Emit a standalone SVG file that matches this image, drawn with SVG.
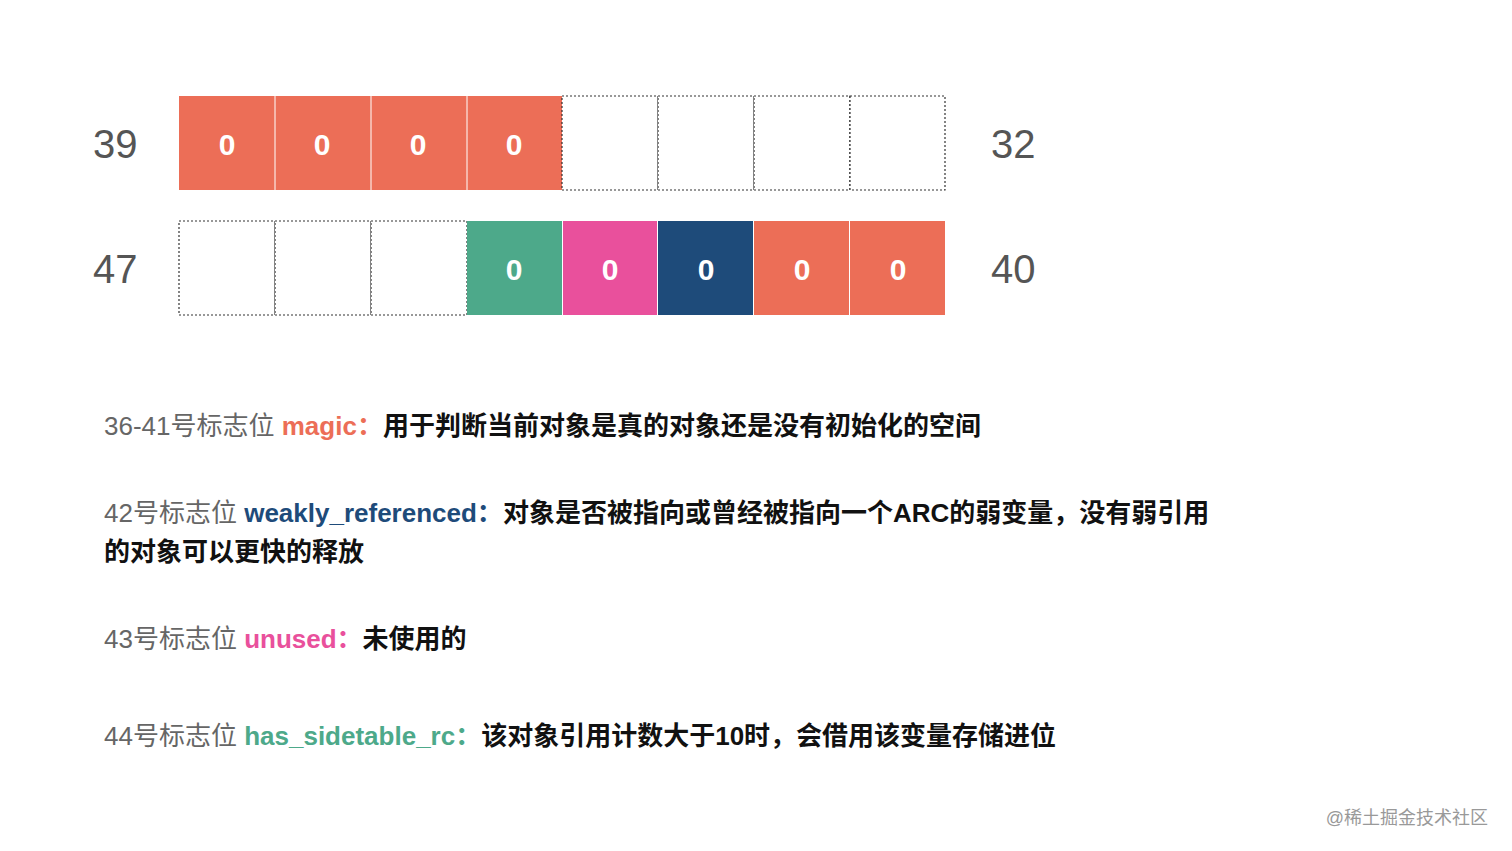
<svg xmlns="http://www.w3.org/2000/svg" width="1512" height="851" viewBox="0 0 1512 851">
<style>
.num{font-family:"Liberation Sans","Noto Sans CJK SC",sans-serif;font-size:40px;fill:#555}
.v{font-family:"Liberation Sans",sans-serif;font-size:30px;font-weight:bold;fill:#fff;text-anchor:middle}
.e{fill:#fff;stroke:#333;stroke-width:1.2;stroke-dasharray:2 2}
.t{font-family:"Liberation Sans","Noto Sans CJK SC",sans-serif;font-size:26px}
.g{fill:#666}.b{fill:#111;font-weight:bold}
.o{fill:#EC6E57}.gr{fill:#4DA98A}.p{fill:#E9509C}.n{fill:#1E4B7A}
</style>
<rect width="1512" height="851" fill="#fff"/>
<g id="row1">
<rect x="179" y="96" width="96" height="94" class="o"/><rect x="275" y="96" width="96" height="94" class="o"/>
<rect x="371" y="96" width="96" height="94" class="o"/><rect x="467" y="96" width="95" height="94" class="o"/>
<line x1="275" y1="96" x2="275" y2="190" stroke="#fff"/><line x1="371" y1="96" x2="371" y2="190" stroke="#fff"/><line x1="467" y1="96" x2="467" y2="190" stroke="#fff"/>
<rect x="562" y="96" width="96" height="94" class="e"/><rect x="658" y="96" width="96" height="94" class="e"/>
<rect x="754" y="96" width="96" height="94" class="e"/><rect x="850" y="96" width="95" height="94" class="e"/>
<text x="227" y="155" class="v">0</text><text x="322" y="155" class="v">0</text><text x="418" y="155" class="v">0</text><text x="514" y="155" class="v">0</text>
<text x="93" y="158" class="num">39</text><text x="991" y="158" class="num">32</text>
</g>
<g id="row2">
<rect x="179" y="221" width="96" height="94" class="e"/><rect x="275" y="221" width="96" height="94" class="e"/><rect x="371" y="221" width="96" height="94" class="e"/>
<rect x="467" y="221" width="95" height="94" class="gr"/><rect x="563" y="221" width="94" height="94" class="p"/>
<rect x="658" y="221" width="95" height="94" class="n"/><rect x="754" y="221" width="95" height="94" class="o"/><rect x="850" y="221" width="95" height="94" class="o"/>
<text x="514" y="280" class="v">0</text><text x="610" y="280" class="v">0</text><text x="706" y="280" class="v">0</text><text x="802" y="280" class="v">0</text><text x="898" y="280" class="v">0</text>
<text x="93" y="283" class="num">47</text><text x="991" y="283" class="num">40</text>
</g>
<g id="desc">
<text x="104" y="435" class="t"><tspan class="g">36-41号标志位 </tspan><tspan class="b o">magic：</tspan><tspan class="b">用于判断当前对象是真的对象还是没有初始化的空间</tspan></text>
<text x="104" y="522" class="t"><tspan class="g">42号标志位 </tspan><tspan class="b n">weakly_referenced：</tspan><tspan class="b">对象是否被指向或曾经被指向一个ARC的弱变量，没有弱引用</tspan></text>
<text x="104" y="561" class="t b">的对象可以更快的释放</text>
<text x="104" y="648" class="t"><tspan class="g">43号标志位 </tspan><tspan class="b p">unused：</tspan><tspan class="b">未使用的</tspan></text>
<text x="104" y="745" class="t"><tspan class="g">44号标志位 </tspan><tspan class="b gr">has_sidetable_rc：</tspan><tspan class="b">该对象引用计数大于10时，会借用该变量存储进位</tspan></text>
</g>
<text x="1488" y="824" text-anchor="end" font-family="Liberation Sans,Noto Sans CJK SC,sans-serif" font-size="18" fill="#999">@稀土掘金技术社区</text>
</svg>
